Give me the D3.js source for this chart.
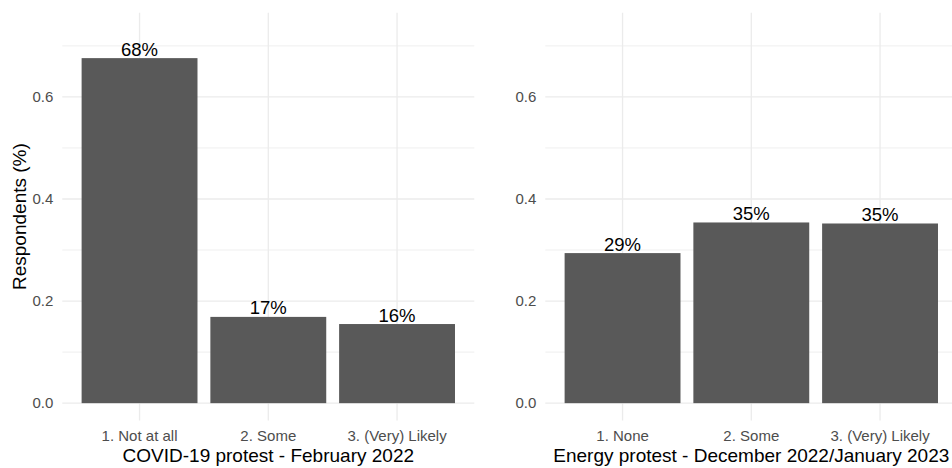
<!DOCTYPE html>
<html>
<head>
<meta charset="utf-8">
<script src="https://cdn.jsdelivr.net/npm/d3@7"></script>
<style>
  html, body { margin: 0; padding: 0; background: #fff; }
  svg { display: block; font-family: "Liberation Sans", Arial, sans-serif; }
</style>
</head>
<body>
<svg id="chart" width="952" height="468"></svg>
<script>
// ---- data ----
const covidCategories = ["1. Not at all", "2. Some", "3. (Very) Likely"];
const covidValues = [0.676, 0.169, 0.155];
const covidLabels = ["68%", "17%", "16%"];
const covidTitle = "COVID-19 protest - February 2022";

const energyCategories = ["1. None", "2. Some", "3. (Very) Likely"];
const energyValues = [0.294, 0.354, 0.352];
const energyLabels = ["29%", "35%", "35%"];
const energyTitle = "Energy protest - December 2022/January 2023";

const majorTicks = [0, 0.2, 0.4, 0.6];
const minorTicks = [0.1, 0.3, 0.5, 0.7];
const yTitle = "Respondents (%)";

// ---- layout ----
const svg = d3.select("#chart");
const panelTop = 12.7, panelBottom = 420.5;
const y = d3.scaleLinear().domain([-0.034, 0.765]).range([panelBottom, panelTop]);

const panels = [
  { left: 62.3, right: 474.3, cats: covidCategories, vals: covidValues, labels: covidLabels, title: covidTitle },
  { left: 545.3, right: 957.3, cats: energyCategories, vals: energyValues, labels: energyLabels, title: energyTitle }
];

panels.forEach(p => {
  const x = d3.scaleBand().domain(p.cats).range([p.left, p.right])
    .paddingInner(0.1).paddingOuter(0.15);
  const g = svg.append("g");

  // minor horizontal gridlines
  g.selectAll("line.minor").data(minorTicks).join("line")
    .attr("x1", p.left).attr("x2", p.right)
    .attr("y1", d => y(d)).attr("y2", d => y(d))
    .attr("stroke", "#EBEBEB").attr("stroke-width", 0.8);
  // major horizontal gridlines
  g.selectAll("line.majorh").data(majorTicks).join("line")
    .attr("x1", p.left).attr("x2", p.right)
    .attr("y1", d => y(d)).attr("y2", d => y(d))
    .attr("stroke", "#EBEBEB").attr("stroke-width", 1.3);
  // major vertical gridlines
  g.selectAll("line.majorv").data(p.cats).join("line")
    .attr("x1", d => x(d) + x.bandwidth() / 2).attr("x2", d => x(d) + x.bandwidth() / 2)
    .attr("y1", panelTop).attr("y2", panelBottom)
    .attr("stroke", "#EBEBEB").attr("stroke-width", 1.3);

  // bars
  g.selectAll("rect").data(p.vals).join("rect")
    .attr("x", (d, i) => x(p.cats[i]))
    .attr("width", x.bandwidth())
    .attr("y", d => y(d))
    .attr("height", d => y(0) - y(d))
    .attr("fill", "#595959");

  // value labels
  g.selectAll("text.val").data(p.vals).join("text")
    .attr("x", (d, i) => x(p.cats[i]) + x.bandwidth() / 2)
    .attr("y", d => y(d) - 2.5)
    .attr("text-anchor", "middle")
    .attr("font-size", "18.5px")
    .attr("fill", "#000")
    .text((d, i) => p.labels[i]);

  // y axis
  const ya = svg.append("g").attr("transform", `translate(${p.left},0)`)
    .call(d3.axisLeft(y).tickValues(majorTicks).tickFormat(d3.format(".1f")).tickSize(0).tickPadding(9));
  ya.select(".domain").remove();
  ya.selectAll("text").attr("font-size", "15px").attr("fill", "#4D4D4D")
    .attr("font-family", "'Liberation Sans', Arial, sans-serif");

  // x axis
  const xa = svg.append("g").attr("transform", `translate(0,${panelBottom})`)
    .call(d3.axisBottom(x).tickSize(0).tickPadding(10.3));
  xa.select(".domain").remove();
  xa.selectAll("text").attr("font-size", "15px").attr("fill", "#4D4D4D")
    .attr("font-family", "'Liberation Sans', Arial, sans-serif");

  // x title
  svg.append("text")
    .attr("x", (p.left + p.right) / 2)
    .attr("y", 461.6)
    .attr("text-anchor", "middle")
    .attr("font-size", "19px")
    .attr("fill", "#000")
    .text(p.title);
});

// y title
svg.append("text")
  .attr("transform", `translate(25.5,${(panelTop + panelBottom) / 2}) rotate(-90)`)
  .attr("text-anchor", "middle")
  .attr("font-size", "19px")
  .attr("fill", "#000")
  .text(yTitle);
</script>
</body>
</html>
